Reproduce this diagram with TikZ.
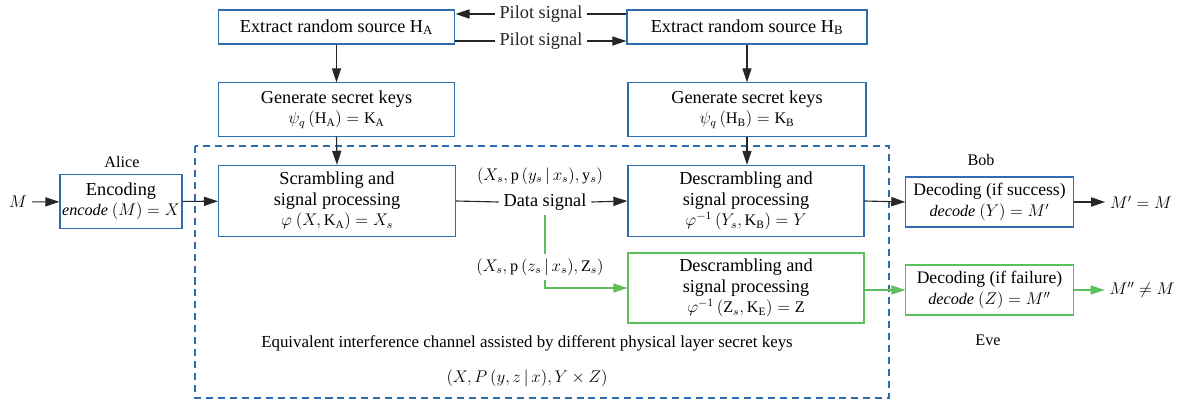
\documentclass[tikz,border=0pt]{standalone}
\usepackage{fontspec}
\setmainfont{Liberation Serif}
\usepackage{tikz}
\usetikzlibrary{arrows.meta, positioning}
\definecolor{boxblue}{HTML}{2F6DAD}
\definecolor{boxgreen}{HTML}{5CBF5C}
\newcommand{\mline}{\fontsize{11.5}{14.5}\selectfont}

\begin{document}
\begin{tikzpicture}[
    x=0.025cm, y=-0.025cm,
    font=\fontsize{13}{14.5}\selectfont,
    % Boxes
    bluebox/.style={rectangle, draw=boxblue, line width=0.8pt, align=center, inner sep=1pt},
    greenbox/.style={bluebox, draw=boxgreen},
    decbox/.style={font=\fontsize{12.5}{14.5}\selectfont, minimum width=4.18cm, minimum height=1.25cm},
    % Labels
    small/.style={font=\fontsize{11.5}{13}\selectfont},
    % Connectors
    arr/.style={-{Triangle[length=10pt, width=6.5pt]}, line width=0.8pt, black!85},
    garr/.style={arr, boxgreen},
    lbl/.style={fill=white, inner sep=3pt}
]
    \useasboundingbox (0,0) rectangle (1183,400);

    % Channel frame
    \draw[boxblue, line width=0.8pt, dash pattern=on 5pt off 3.5pt] (195,146) rectangle (889,398);

    % Random sources
    \node[bluebox, minimum width=5.92cm, minimum height=0.85cm] (ha) at (336.5,27) {Extract random source H\textsubscript{A}};
    \node[bluebox, minimum width=6.0cm, minimum height=0.85cm] (hb) at (747,27) {Extract random source H\textsubscript{B}};

    % Secret keys
    \node[bluebox, minimum width=5.92cm, minimum height=1.33cm] (ga) at (336.5,109.5) {Generate secret keys\\\mline$\psi_q\,(\mathrm{H_A}) = \mathrm{K_A}$};
    \node[bluebox, minimum width=5.95cm, minimum height=1.33cm] (gb) at (747,109.5) {Generate secret keys\\\mline$\psi_q\,(\mathrm{H_B}) = \mathrm{K_B}$};

    % Alice
    \node[small] (m) at (18,202) {$M$};
    \node[bluebox, minimum width=3.05cm, minimum height=1.33cm] (enc) at (121,201.5) {Encoding\\\mline\textit{encode} $(M) = X$};
    \node[small] (alice) at (122,162) {Alice};
    \node[bluebox, minimum width=5.92cm, minimum height=1.78cm] (scr) at (337,201) {Scrambling and\\signal processing\\\mline$\varphi\ (X, \mathrm{K_A}) = X_s$};

    % Channel outputs
    \node (data) at (545,202) {Data signal};
    \node[small] (ylab) at (540,176) {$(X_s, \mathrm{p}\,(y_s \,|\, x_s), \mathrm{y}_s)$};
    \node[bluebox, minimum width=5.9cm, minimum height=1.78cm] (desb) at (746,201) {Descrambling and\\signal processing\\\mline$\varphi^{-1}\,(Y_s, \mathrm{K_B}) = Y$};
    \node[greenbox, minimum width=5.9cm, minimum height=1.75cm] (dese) at (746,288) {Descrambling and\\signal processing\\\mline$\varphi^{-1}\,(\mathrm{Z}_s, \mathrm{K_E}) = \mathrm{Z}$};

    % Bob and Eve
    \node[bluebox, decbox] (decb) at (989.5,202) {Decoding (if success)\\\mline\textit{decode} $(Y) = M'$};
    \node[greenbox, decbox] (dece) at (989.5,290) {Decoding (if failure)\\\mline\textit{decode} $(Z) = M''$};
    \node[small] (bob) at (981,160) {Bob};
    \node[small] (eve) at (988,340) {Eve};
    \node[small] (mb) at (1141,202) {$M' = M$};
    \node[small] (me) at (1142,290) {$M'' \neq M$};

    % Pilot signals
    \draw[arr] ([yshift=0.325cm]hb.west) -- node[lbl] {Pilot signal} ([yshift=0.325cm]ha.east);
    \draw[arr] ([yshift=-0.35cm]ha.east) -- node[lbl] {Pilot signal} ([yshift=-0.35cm]hb.west);

    % Key generation
    \draw[arr] (ha.south) -- (ga.north);
    \draw[arr] (hb.south) -- (gb.north);
    \draw[arr] (ga.south) -- (scr.north);
    \draw[arr] (gb.south) -- (gb.south |- desb.north);

    % Main link
    \draw[arr] (m) -- (enc);
    \draw[arr] (enc) -- (scr);
    \draw[line width=0.8pt, black!85] (scr.east) -- (data.west);
    \draw[arr] (data.east) -- (desb.west);
    \draw[arr] (desb.east) -- (decb.west);
    \draw[arr] (decb.east) -- (mb.west);

    % Eavesdropper link
    \draw[garr] (data.south) |- (dese.west);
    \node[lbl, small] (zlab) at (540,267) {$(X_s, \mathrm{p}\,(z_s \,|\, x_s), \mathrm{Z}_s)$};
    \draw[garr] (dese.east |- dece.west) -- (dece.west);
    \draw[garr] (dece.east) -- (me.west);

    % Channel description
    \node[font=\fontsize{12}{13}\selectfont] (chan) at (527,343) {Equivalent interference channel assisted by different physical layer secret keys};
    \node[small] (cap) at (527,378) {$(X, P\,(y, z \,|\, x), Y \times Z)$};
\end{tikzpicture}
\end{document}
